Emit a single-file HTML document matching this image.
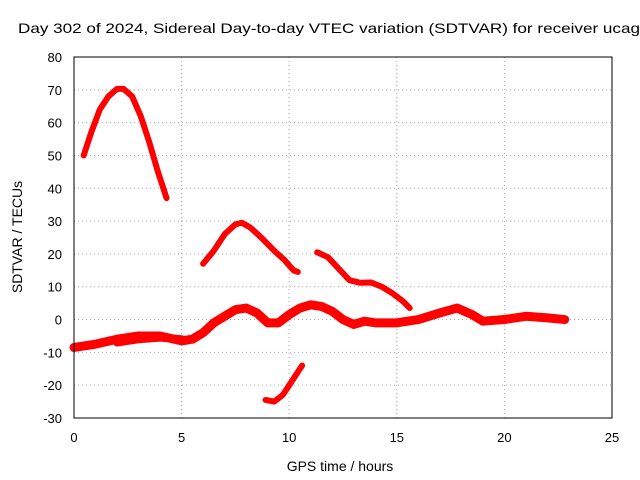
<!DOCTYPE html>
<html><head><meta charset="utf-8"><style>
body{margin:0;background:#fff}
svg{display:block;font-family:"Liberation Sans",sans-serif}
</style></head><body>
<svg id="chart" width="640" height="480" viewBox="0 0 640 480">
<rect width="640" height="480" fill="#fff"/>
<text x="18" y="33" font-size="14" textLength="622" lengthAdjust="spacingAndGlyphs" fill="#000">Day 302 of 2024, Sidereal Day-to-day VTEC variation (SDTVAR) for receiver ucag</text>
<g id="grid"></g>
<g id="series"></g>
<rect x="74" y="57" width="538" height="361" fill="none" stroke="#000" stroke-width="1"/>
<g id="ticks"></g>
<text transform="translate(22,237) rotate(-90)" text-anchor="middle" font-size="14">SDTVAR / TECUs</text>
<text x="340" y="471" text-anchor="middle" font-size="14">GPS time / hours</text>
</svg>
<script>
const xTicks=[0,5,10,15,20,25];
const yTicks=[-30,-20,-10,0,10,20,30,40,50,60,70,80];
const arc1=[[0.45,50],[0.8,57],[1.2,64],[1.6,68],[2.0,70.3],[2.3,70.3],[2.7,68],[3.1,62],[3.5,54],[3.9,45],[4.3,37]];
const arc2=[[6.0,17],[6.5,21],[7.0,26],[7.5,29],[7.8,29.5],[8.2,28],[8.7,25],[9.3,21],[9.8,18],[10.2,15],[10.4,14.5]];
const arc3=[[11.3,20.5],[11.8,19],[12.3,15.5],[12.8,12],[13.3,11.2],[13.8,11.3],[14.3,10],[14.8,8],[15.3,5.5],[15.6,3.5]];
const arc4=[[8.9,-24.5],[9.3,-25],[9.7,-23],[10.0,-20],[10.3,-17],[10.6,-14]];
const band=[[0,-8.5],[1,-7.5],[2,-6],[3,-5],[4,-5],[5,-6.5],[5.5,-6],[6,-4],[6.5,-1],[7,1],[7.5,3],[8,3.5],[8.5,2],[9,-1],[9.5,-1],[10,1.5],[10.5,3.5],[11,4.5],[11.5,4],[12,2.5],[12.5,0],[13,-1.5],[13.5,-0.5],[14,-1],[15,-1],[16,0],[17,2],[17.8,3.5],[18.5,1.5],[19,-0.5],[20,0],[21,1],[22,0.5],[22.8,0]];
const band2=[[2,-7],[3,-6],[4,-5.5],[5,-6]];
const NS="http://www.w3.org/2000/svg";
const X0=74,X1=612,Y0=418,Y1=57;
function sx(h){return X0+(h-0)/(25-0)*(X1-X0);}
function sy(v){return Y0-(v-(-30))/(80-(-30))*(Y0-Y1);}
const grid=document.getElementById('grid'),ticks=document.getElementById('ticks'),ser=document.getElementById('series');
function mk(tag,a,p){const e=document.createElementNS(NS,tag);for(const k in a)e.setAttribute(k,a[k]);p.appendChild(e);return e;}
xTicks.forEach(t=>{const x=sx(t);
 if(t>0&&t<25){const g=mk('line',{x1:x,x2:x,y1:Y1,y2:Y0,stroke:'#aaa','stroke-dasharray':'1,3'},grid);}
 const l=mk('text',{x:x,y:442,'text-anchor':'middle','font-size':'13'},ticks);l.textContent=t;
 });
yTicks.forEach(t=>{const y=sy(t);
 if(t>-30&&t<80){const g=mk('line',{x1:X0,x2:X1,y1:y,y2:y,stroke:'#aaa','stroke-dasharray':'1,3'},grid);}
 const l=mk('text',{x:62,y:y+5,'text-anchor':'end','font-size':'13'},ticks);l.textContent=t;
 });
[[arc1,6],[arc2,6],[arc3,6],[arc4,6],[band,9],[band2,8]].forEach(([d,w],i)=>{
 const p=mk('polyline',{points:d.map(q=>sx(q[0])+','+sy(q[1])).join(' '),fill:'none',stroke:'#f00','stroke-width':w,'stroke-linejoin':'round','stroke-linecap':'round'},ser);
 
 });
</script>
</body></html>
